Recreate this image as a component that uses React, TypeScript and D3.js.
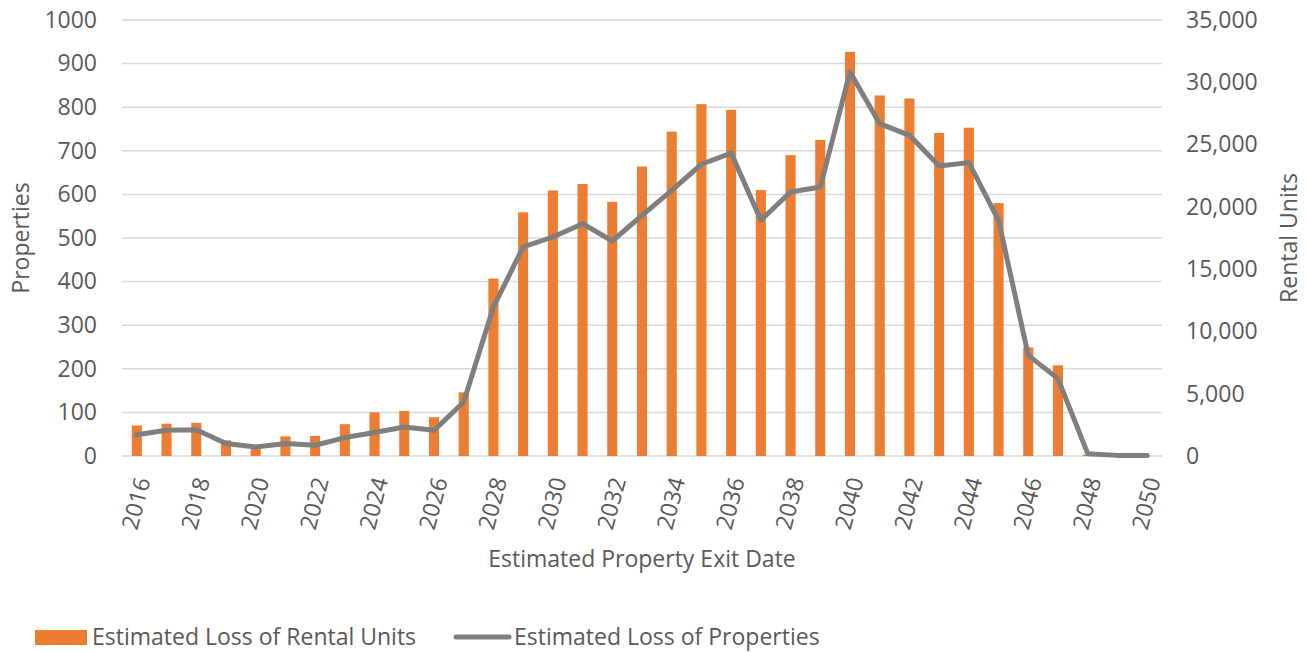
import { useEffect, useRef } from 'react';
import * as d3 from 'd3';

const years = d3.range(2016, 2051).map(String);

// Estimated loss of rental units (bars, drawn on the left axis)
const rentalUnits = [
	70, 74, 76, 36, 22, 45, 46, 73, 100, 103, 89, 146, 407, 559, 609, 624, 583,
	664, 744, 807, 794, 610, 690, 725, 927, 827, 820, 741, 753, 580, 249, 208, 3,
	0, 0,
];

// Estimated loss of properties (line, drawn on the right axis)
const properties = [
	1700, 2060, 2100, 1000, 720, 1000, 860, 1480, 1880, 2330, 2060, 4330, 11960,
	16780, 17580, 18650, 17260, 19320, 21330, 23420, 24320, 18920, 21190, 21590,
	30830, 26680, 25740, 23280, 23550, 18920, 8080, 6210, 190, 50, 50,
];

const leftTicks = d3.range(0, 1001, 100);
const rightTicks = d3.range(0, 35001, 5000);
const xTickLabels = years.filter((d, i) => i % 2 === 0);

const App = () => {
	const ref = useRef<SVGSVGElement>(null);

	useEffect(() => {
		const W = 1307,
			H = 652;
		const margin = { top: 20, right: 145, bottom: 196, left: 122 };
		const width = W - margin.left - margin.right,
			height = H - margin.top - margin.bottom;
		const font = "'Open Sans', sans-serif";
		const fs = 23;
		const textColor = '#595959';

		const svg = d3.select(ref.current).attr('width', W).attr('height', H);
		svg.selectAll('*').remove();

		const g = svg
			.append('g')
			.attr('transform', `translate(${margin.left}, ${margin.top})`);

		const x = d3.scaleBand().domain(years).range([0, width]).paddingInner(0.66).paddingOuter(0.33);
		const yL = d3.scaleLinear().domain([0, 1000]).range([height, 0]);
		const yR = d3.scaleLinear().domain([0, 35000]).range([height, 0]);

		// gridlines
		g.append('g')
			.selectAll('line')
			.data(leftTicks)
			.join('line')
			.attr('x1', 0)
			.attr('x2', width)
			.attr('y1', (d) => yL(d))
			.attr('y2', (d) => yL(d))
			.attr('stroke', '#d9d9d9')
			.attr('stroke-width', 1.5);

		// left axis
		const leftAxis = g
			.append('g')
			.call(
				d3
					.axisLeft(yL)
					.tickValues(leftTicks)
					.tickSize(0)
					.tickPadding(25)
					.tickFormat(d3.format('d'))
			);
		leftAxis.select('.domain').remove();
		leftAxis
			.selectAll('text')
			.attr('font-family', font)
			.attr('font-size', fs)
			.attr('fill', textColor);

		// right axis
		const rightAxis = g
			.append('g')
			.attr('transform', `translate(${width}, 0)`)
			.call(
				d3
					.axisRight(yR)
					.tickValues(rightTicks)
					.tickSize(0)
					.tickPadding(24)
					.tickFormat(d3.format(','))
			);
		rightAxis.select('.domain').remove();
		rightAxis
			.selectAll('text')
			.attr('font-family', font)
			.attr('font-size', fs)
			.attr('fill', textColor);

		// bars
		g.append('g')
			.selectAll('rect')
			.data(rentalUnits)
			.join('rect')
			.attr('x', (d, i) => x(years[i]) as number)
			.attr('width', x.bandwidth())
			.attr('y', (d) => yL(d))
			.attr('height', (d) => height - yL(d))
			.attr('fill', '#ed7d31');

		// line
		const line = d3
			.line<number>()
			.x((d, i) => (x(years[i]) as number) + x.bandwidth() / 2)
			.y((d) => yR(d));
		g.append('path')
			.datum(properties)
			.attr('fill', 'none')
			.attr('stroke', '#7f7f7f')
			.attr('stroke-width', 5)
			.attr('stroke-linejoin', 'round')
			.attr('stroke-linecap', 'round')
			.attr('d', line);

		// x tick labels
		g.append('g')
			.selectAll('text')
			.data(xTickLabels)
			.join('text')
			.attr(
				'transform',
				(d) =>
					`translate(${(x(d) as number) + x.bandwidth() / 2 + 6}, ${height + 22}) rotate(-75)`
			)
			.attr('text-anchor', 'end')
			.attr('dy', '0.35em')
			.attr('font-family', font)
			.attr('font-size', fs)
			.attr('fill', textColor)
			.text((d) => d);

		// axis titles
		g.append('text')
			.attr('x', width / 2)
			.attr('y', height + 111)
			.attr('text-anchor', 'middle')
			.attr('font-family', font)
			.attr('font-size', fs)
			.attr('fill', textColor)
			.text('Estimated Property Exit Date');

		svg.append('text')
			.attr('transform', `translate(29, ${margin.top + height / 2}) rotate(-90)`)
			.attr('text-anchor', 'middle')
			.attr('font-family', font)
			.attr('font-size', fs)
			.attr('fill', textColor)
			.text('Properties');

		svg.append('text')
			.attr('transform', `translate(1297, ${margin.top + height / 2}) rotate(-90)`)
			.attr('text-anchor', 'middle')
			.attr('font-family', font)
			.attr('font-size', fs)
			.attr('fill', textColor)
			.text('Rental Units');

		// legend
		const legend = svg.append('g').attr('transform', `translate(0, 637)`);
		legend.append('rect')
			.attr('x', 35)
			.attr('y', -7)
			.attr('width', 52)
			.attr('height', 15)
			.attr('fill', '#ed7d31');
		legend.append('text')
			.attr('x', 92)
			.attr('y', 0)
			.attr('dy', '0.35em')
			.attr('font-family', font)
			.attr('font-size', fs)
			.attr('fill', textColor)
			.text('Estimated Loss of Rental Units');
		legend.append('line')
			.attr('x1', 456)
			.attr('x2', 509)
			.attr('y1', 0)
			.attr('y2', 0)
			.attr('stroke', '#7f7f7f')
			.attr('stroke-width', 5)
			.attr('stroke-linecap', 'round');
		legend.append('text')
			.attr('x', 514)
			.attr('y', 0)
			.attr('dy', '0.35em')
			.attr('font-family', font)
			.attr('font-size', fs)
			.attr('fill', textColor)
			.text('Estimated Loss of Properties');
	}, []);

	return (
		<svg
			ref={ref}
			style={{ position: 'absolute', left: 0, top: 0, display: 'block' }}
		/>
	);
};

export default App;
